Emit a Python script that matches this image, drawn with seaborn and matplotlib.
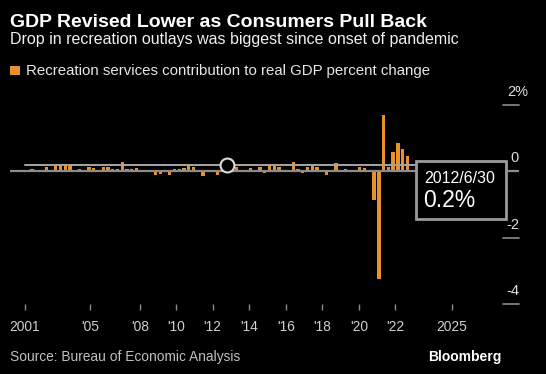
import matplotlib
matplotlib.use("Agg")
import matplotlib.pyplot as plt
import matplotlib.transforms as mtransforms
from matplotlib import font_manager
from matplotlib.patches import Rectangle
import pandas as pd
import seaborn as sns

# quarterly data, 2001Q1 .. 2022Q1
quarters = pd.period_range("2001Q1", "2022Q1", freq="Q").astype(str).tolist()
values = [
    0.02, -0.01, 0.00, 0.02, 0.07, 0.00, 0.02, 0.12,
    0.00, 0.22, 0.22, 0.22, 0.22, 0.00, 0.07, 0.03,
    0.12, 0.10, 0.01, 0.12, 0.12, 0.07, 0.07, 0.28,
    0.08, 0.07, 0.11, 0.04, -0.02, 0.05, -0.10, -0.08,
    -0.02, -0.10, 0.07, 0.07, 0.10, 0.18, 0.12, -0.03,
    -0.15, 0.05, 0.05, -0.10, 0.02, 0.20, 0.02, 0.12,
    0.05, -0.02, 0.10, 0.05, 0.12, -0.04, 0.20, 0.17,
    0.12, 0.05, 0.03, 0.29, 0.08, -0.05, 0.14, 0.15,
    0.12, 0.02, -0.10, 0.04, 0.25, 0.02, 0.06, 0.00,
    0.05, 0.14, 0.09, 0.02, -0.85, -3.26, 1.70, 0.12,
    0.58, 0.84, 0.68, 0.45, 0.05,
]

# x tick labels sit where Bloomberg put them (in quarter-index units)
tick_pos = [2.5, 16.2, 26.7, 34.3, 42.0, 49.7, 57.5, 65.1, 72.8, 80.4, 92.4]
tick_labels = ["2001", "'05", "'08", "'10", "'12", "'14", "'16", "'18", "'20", "'22", "2025"]
y_ticks = [2, 0, -2, -4]
y_labels = ["2%", "0", "-2", "-4"]

hover_quarter = "2012Q2"
hover_date = "2012/6/30"
hover_value = 0.2

ORANGE = "#e8912d"
GREY = "#8c8c8c"

sns.set_style("dark", {"axes.facecolor": "black", "figure.facecolor": "black"})
names = {f.name for f in font_manager.fontManager.ttflist}
narrow = "Liberation Sans Narrow" if "Liberation Sans Narrow" in names else "Liberation Sans"
plt.rcParams["font.family"] = ["Liberation Sans", "DejaVu Sans"]

W, H = 546, 374
fig = plt.figure(figsize=(W / 100, H / 100), dpi=100, facecolor="black")
ax = fig.add_axes([10 / W, 1 - 304 / H, 509 / W, (304 - 105) / H])
ax.set_facecolor("black")

df = pd.DataFrame({"quarter": quarters, "value": values})
sns.barplot(data=df, x="quarter", y="value", color=ORANGE, saturation=1,
            width=0.7, errorbar=None, linewidth=0, zorder=2, ax=ax)

ax.set_xlim(-0.63, 106.5)
ax.set_ylim(-4, 2)
for s in ax.spines.values():
    s.set_visible(False)
ax.grid(False)
ax.set_xlabel("")
ax.set_ylabel("")

ax.set_xticks(tick_pos, tick_labels)
ax.tick_params(axis="x", direction="out", length=4.3, width=1, color="#8a8a8a",
               labelcolor="#d0d0d0", labelsize=9.9, pad=7, bottom=True)
ax.set_yticks([])

# zero line and short right-hand gridlines with labels
ax.axhline(0, color=GREY, lw=1.6, zorder=3)
blend = mtransforms.blended_transform_factory(ax.transAxes, ax.transData)
lift = mtransforms.ScaledTranslation(0, 9 / 100, fig.dpi_scale_trans)
for v, lab in zip(y_ticks, y_labels):
    if v != 0:
        ax.plot([0.9686, 1.0], [v, v], transform=blend, color=GREY, lw=1.2,
                clip_on=False, zorder=3)
    xpos = 1.0177 if lab.endswith("%") else 1.0
    ax.text(xpos, v, lab, transform=blend + lift, ha="right", va="baseline",
            color="#e0e0e0", fontsize=10.5, clip_on=False)

# hover crosshair + marker
ax.axhline(hover_value, xmin=15 / 509, xmax=406 / 509, color="#a5a5a5", lw=1.4, zorder=3)
hx = quarters.index(hover_quarter)
ax.plot([hx], [hover_value], "o", ms=10, mfc="black", mec="#dcdcdc", mew=1.5, zorder=6)

# tooltip box
fig.patches.append(Rectangle((416 / W, 1 - 219 / H), 90 / W, 58 / H, transform=fig.transFigure,
                             facecolor="black", edgecolor="#9a9a9a", lw=2, zorder=5))
fig.text(424 / W, 1 - 183 / H, hover_date, color="white", fontsize=11.5,
         va="baseline", ha="left", zorder=6)
fig.text(423 / W, 1 - 207 / H, f"{hover_value}%", color="white", fontsize=16.5,
         family=narrow, va="baseline", ha="left", zorder=6)

# titles, legend, source
fig.text(10 / W, 1 - 27 / H, "GDP Revised Lower as Consumers Pull Back",
         color="white", fontsize=14, fontweight="bold", va="baseline")
fig.text(10 / W, 1 - 44 / H, "Drop in recreation outlays was biggest since onset of pandemic",
         color="#f0f0f0", fontsize=11.5, va="baseline")
fig.patches.append(Rectangle((10 / W, 1 - 75 / H), 10 / W, 9 / H, transform=fig.transFigure,
                             facecolor=ORANGE, edgecolor="none"))
fig.text(26 / W, 1 - 75 / H, "Recreation services contribution to real GDP percent change",
         color="#e6e6e6", fontsize=10.8, va="baseline")
fig.text(10 / W, 1 - 361 / H, "Source: Bureau of Economic Analysis",
         color="#c0c0c0", fontsize=9.9, va="baseline")
fig.text(428 / W, 1 - 361 / H, "Bloomberg", color="white", fontsize=10,
         fontweight="bold", va="baseline")

fig.savefig("out.png", dpi=100, facecolor="black")
